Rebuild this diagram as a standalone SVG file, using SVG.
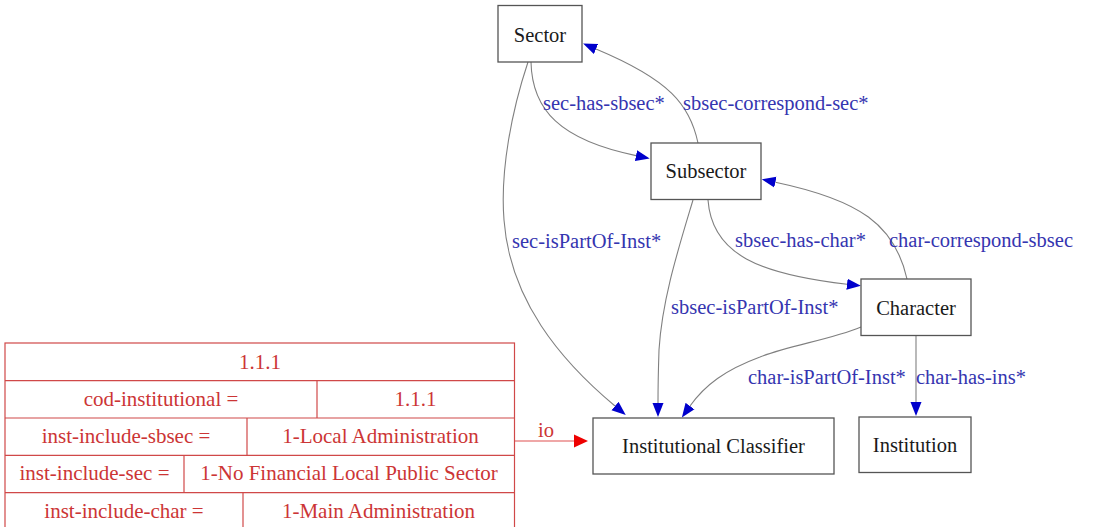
<svg xmlns="http://www.w3.org/2000/svg" width="1094" height="527" viewBox="0 0 1094 527">
  <style>
    .box { fill: #ffffff; stroke: #555555; stroke-width: 1.3; }
    .ntext { font-family: "Liberation Serif", "Times New Roman", serif; font-size: 20.5px; fill: #1a1a1a; text-anchor: middle; }
    .edge { fill: none; stroke: #808080; stroke-width: 1.1; }
    .elabel { font-family: "Liberation Serif", "Times New Roman", serif; font-size: 20.5px; fill: #3535b0; }
    .rec { fill: #ffffff; stroke: #d04848; stroke-width: 1.2; }
    .recline { stroke: #d04848; stroke-width: 1.2; }
    .rtext { font-family: "Liberation Serif", "Times New Roman", serif; font-size: 21px; fill: #cc3535; text-anchor: middle; }
    .io { fill: none; stroke: #e05050; stroke-width: 1.2; }
  </style>
  <defs>
    <marker id="arrowBlue" markerWidth="14" markerHeight="12" refX="0" refY="6" orient="auto" markerUnits="userSpaceOnUse">
      <path d="M0,0.5 L14,6 L0,11.5 Z" fill="#0000cc"/>
    </marker>
    <marker id="arrowRed" markerWidth="14" markerHeight="14" refX="0" refY="7" orient="auto" markerUnits="userSpaceOnUse">
      <path d="M0,0.5 L14,7 L0,13.5 Z" fill="#ee0000"/>
    </marker>
  </defs>

  <rect width="1094" height="527" fill="#ffffff"/>

  <!-- connectors -->
  <g id="edges">
    <path class="edge" d="M531,62 C532,110 560,140 636,155.6" marker-end="url(#arrowBlue)"/>
    <path class="edge" d="M698,143 C690,105 670,80 596,49" marker-end="url(#arrowBlue)"/>
    <path class="edge" d="M708,200 C712,255 760,274 847,284.2" marker-end="url(#arrowBlue)"/>
    <path class="edge" d="M907,279 C895,225 860,200 775.4,182.2" marker-end="url(#arrowBlue)"/>
    <path class="edge" d="M528,62 C512,110 500,170 504,220 C510,300 560,360 615,406" marker-end="url(#arrowBlue)"/>
    <path class="edge" d="M693,200 C678,250 662,300 659,350 C658,380 658,395 658,403" marker-end="url(#arrowBlue)"/>
    <path class="edge" d="M861,327 C830,340 790,345 760,357 C725,370 705,385 690,406" marker-end="url(#arrowBlue)"/>
    <path class="edge" d="M916,336 L916,402" marker-end="url(#arrowBlue)"/>
    <path class="io" d="M514,441 L574,441" marker-end="url(#arrowRed)"/>

    <text class="elabel" x="543" y="110">sec-has-sbsec*</text>
    <text class="elabel" x="683" y="110">sbsec-correspond-sec*</text>
    <text class="elabel" x="512" y="247.5">sec-isPartOf-Inst*</text>
    <text class="elabel" x="735" y="246.5">sbsec-has-char*</text>
    <text class="elabel" x="889" y="246.5">char-correspond-sbsec</text>
    <text class="elabel" x="671" y="314">sbsec-isPartOf-Inst*</text>
    <text class="elabel" x="748" y="383.5">char-isPartOf-Inst*</text>
    <text class="elabel" x="916" y="383.5">char-has-ins*</text>
    <text class="elabel" x="538" y="437" style="fill:#cc3535">io</text>
  </g>

  <g id="sector">
    <rect class="box" x="498" y="5.5" width="84" height="56.5"/>
    <text class="ntext" x="540" y="42">Sector</text>
  </g>

  <g id="subsector">
    <rect class="box" x="651" y="143" width="110" height="56.5"/>
    <text class="ntext" x="706" y="178">Subsector</text>
  </g>

  <g id="character">
    <rect class="box" x="861" y="279" width="110" height="56.5"/>
    <text class="ntext" x="916" y="315">Character</text>
  </g>

  <g id="institutional-classifier">
    <rect class="box" x="593" y="418" width="241" height="56"/>
    <text class="ntext" x="713.5" y="453">Institutional Classifier</text>
  </g>

  <g id="institution">
    <rect class="box" x="859" y="417" width="112" height="55.5"/>
    <text class="ntext" x="915" y="452">Institution</text>
  </g>

  <g id="instance-1.1.1">
    <rect class="rec" x="5" y="343" width="509.5" height="186.5"/>
    <line class="recline" x1="5" y1="380.7" x2="514.5" y2="380.7"/>
    <line class="recline" x1="5" y1="418" x2="514.5" y2="418"/>
    <line class="recline" x1="5" y1="455.3" x2="514.5" y2="455.3"/>
    <line class="recline" x1="5" y1="492.6" x2="514.5" y2="492.6"/>
    <line class="recline" x1="317" y1="380.7" x2="317" y2="418"/>
    <line class="recline" x1="247" y1="418" x2="247" y2="455.3"/>
    <line class="recline" x1="184" y1="455.3" x2="184" y2="492.6"/>
    <line class="recline" x1="243" y1="492.6" x2="243" y2="529.5"/>

    <text class="rtext" x="260" y="368.5">1.1.1</text>
    <text class="rtext" x="161" y="406">cod-institutional =</text>
    <text class="rtext" x="415.5" y="406">1.1.1</text>
    <text class="rtext" x="126" y="443">inst-include-sbsec =</text>
    <text class="rtext" x="380.5" y="443">1-Local Administration</text>
    <text class="rtext" x="94.5" y="480">inst-include-sec =</text>
    <text class="rtext" x="349" y="480">1-No Financial Local Public Sector</text>
    <text class="rtext" x="124" y="517.5">inst-include-char =</text>
    <text class="rtext" x="378.5" y="517.5">1-Main Administration</text>
  </g>
</svg>
